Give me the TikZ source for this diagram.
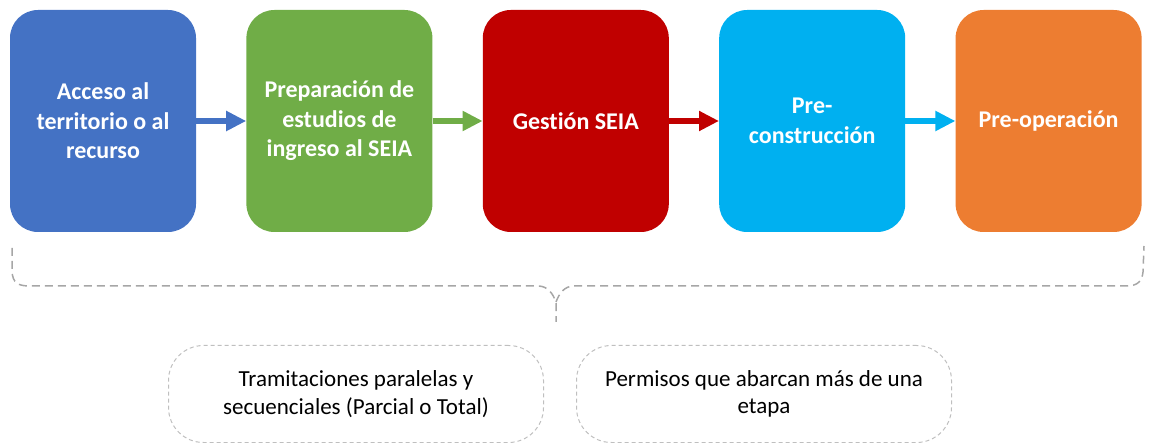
\documentclass[tikz,border=0pt]{standalone}
\usepackage{fontspec}
\setmainfont{Carlito}[Ligatures=NoCommon]
\usetikzlibrary{positioning,arrows.meta}
\definecolor{stageblue}{HTML}{4472C4}
\definecolor{stagegreen}{HTML}{70AD47}
\definecolor{stagered}{HTML}{C00000}
\definecolor{stagecyan}{HTML}{00B0F0}
\definecolor{stageorange}{HTML}{ED7D31}
\definecolor{bracegray}{HTML}{A6A6A6}
\definecolor{boxgray}{HTML}{BFBFBF}
\begin{document}
\begin{tikzpicture}[x=1pt, y=-1pt,
  node distance=50pt,
  stage/.style={fill=#1, rounded corners=28pt, minimum width=186pt, minimum height=222pt,
    align=center, text=white, font=\fontsize{24}{29.5}\selectfont\bfseries},
  flow/.style={draw=#1, line width=6pt, -{Triangle[length=20pt, width=19pt]}},
  note/.style={draw=boxgray, dashed, dash pattern=on 4pt off 3pt, line width=1pt,
    rounded corners=35pt, minimum width=375pt, minimum height=97pt,
    align=center, font=\fontsize{23}{27.5}\selectfont}]
\useasboundingbox (0,0) rectangle (1154,443);
\node [stage=stageblue] (acceso) at (103,121) {Acceso al\\territorio o al\\recurso};
\node [stage=stagegreen, right=of acceso] (preparacion) {Preparación de\\estudios de\\ingreso al SEIA};
\node [stage=stagered, right=of preparacion] (gestion) {Gestión SEIA};
\node [stage=stagecyan, right=of gestion] (precons) {Pre-\\construcción};
\node [stage=stageorange, right=of precons] (preop) {Pre-operación};
\draw [flow=stageblue] (acceso) -- (preparacion);
\draw [flow=stagegreen] (preparacion) -- (gestion);
\draw [flow=stagered] (gestion) -- (precons);
\draw [flow=stagecyan] (precons) -- (preop);
\draw [bracegray, line width=1.5pt, dash pattern=on 8pt off 5pt]
  (12,248) -- (12,272) .. controls (13,283) and (18,286) .. (30,286)
  -- (538,286) .. controls (548,286) and (553,294) .. (556,302) -- (556,322)
  (556,302) .. controls (559,294) and (564,286) .. (574,286)
  -- (1126,286) .. controls (1138,286) and (1142,281) .. (1143,272) -- (1144,246);
\node [note] (paralelas) at (356,394) {Tramitaciones paralelas y\\secuenciales (Parcial o Total)};
\node [note, right=32pt of paralelas] (permisos) {Permisos que abarcan más de una\\etapa};
\end{tikzpicture}
\end{document}
